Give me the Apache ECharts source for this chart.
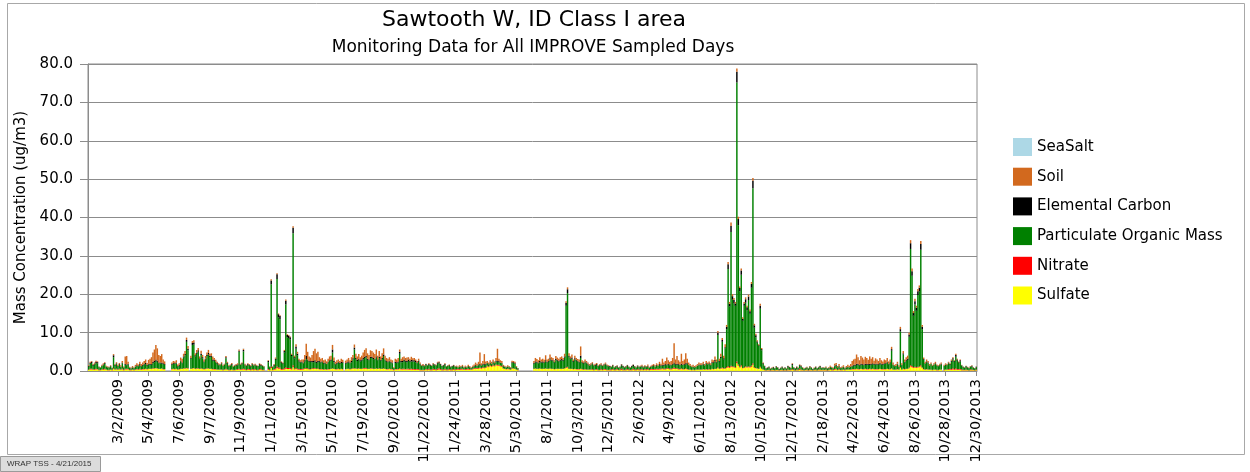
<!DOCTYPE html>
<html><head><meta charset="utf-8">
<script src="https://cdn.jsdelivr.net/npm/echarts/dist/echarts.min.js"></script>
<style>html,body{margin:0;padding:0;background:#fff}#c{width:1250px;height:472px}</style>
</head><body><div id="c"></div>
<script>
const _ = null;
const chartTitle = 'Sawtooth W, ID Class I area';
const chartSubtitle = 'Monitoring Data for All IMPROVE Sampled Days';
const yTitle = 'Mass Concentration (ug/m3)';
const footer = 'WRAP TSS - 4/21/2015';
const firstSampleUTC = [2009, 0, 1];
const sampleStepDays = 3;
const tickLabels = ['3/2/2009','5/4/2009','7/6/2009','9/7/2009','11/9/2009','1/11/2010','3/15/2010','5/17/2010','7/19/2010','9/20/2010','11/22/2010','1/24/2011','3/28/2011','5/30/2011','8/1/2011','10/3/2011','12/5/2011','2/6/2012','4/9/2012','6/11/2012','8/13/2012','10/15/2012','12/17/2012','2/18/2013','4/22/2013','6/24/2013','8/26/2013','10/28/2013','12/30/2013'];
const yTicks = [0,10,20,30,40,50,60,70,80];

const sulfate = [
0.3,0.4,0.4,0.3,0.3,0.4,0.4,0.2,0.2,0.3,0.3,0.4,0.3,0.2,0.2,0.3,0.2,0.5,0.3,0.4,0.3,
0.4,0.3,0.4,0.2,0.4,0.4,0.4,0.2,0.2,0.3,0.2,0.3,0.4,0.3,0.4,0.3,0.4,0.4,0.5,0.4,0.5,
0.5,0.5,0.6,0.6,0.7,0.6,0.5,0.5,0.6,0.4,0.4,_,_,_,_,0.4,0.5,0.4,0.5,0.3,0.4,
0.5,0.5,0.6,0.6,0.7,0.6,_,0.5,0.6,0.7,0.5,0.6,0.6,0.5,0.6,0.5,0.4,0.5,0.6,0.6,0.5,
0.5,0.4,0.4,0.4,0.3,0.3,0.3,0.3,0.2,0.3,0.4,0.3,0.2,0.2,0.3,0.2,0.2,0.3,0.3,0.4,0.3,
0.3,0.4,0.3,0.2,0.3,0.3,0.2,0.3,0.2,0.3,0.2,0.2,0.3,0.3,0.2,0.2,_,_,0.3,0.2,0.8,
0.2,0.3,0.4,0.8,0.6,0.6,0.3,0.3,0.4,0.6,0.5,0.5,0.5,0.4,1.0,0.4,0.5,0.4,0.3,0.3,0.3,
0.4,0.5,0.5,0.5,0.4,0.4,0.5,0.5,0.6,0.5,0.5,0.4,0.4,0.4,0.3,0.4,0.3,0.4,0.4,0.5,0.6,
0.5,0.4,0.4,0.5,0.4,0.5,0.4,_,0.4,0.5,0.5,0.4,0.5,0.6,0.6,0.6,0.5,0.6,0.5,0.5,0.6,
0.6,0.6,0.5,0.5,0.6,0.6,0.5,0.5,0.6,0.5,0.6,0.5,0.5,0.6,0.5,0.4,0.4,0.5,0.4,0.4,0.2,
0.4,0.4,0.4,0.5,0.4,0.4,0.4,0.4,0.4,0.4,0.3,0.4,0.3,0.3,0.3,0.3,0.3,0.2,0.2,0.2,0.2,
0.3,0.2,0.3,0.2,0.2,0.3,0.3,0.2,0.3,0.4,0.3,0.2,0.2,0.3,0.2,0.2,0.3,0.2,0.2,0.3,0.2,
0.3,0.3,0.3,0.3,0.4,0.3,0.3,0.3,0.4,0.3,0.3,0.4,0.5,0.6,0.5,0.6,0.7,0.6,0.8,0.7,0.8,
1.2,1.0,1.3,1.1,1.4,1.2,1.5,1.4,1.4,1.2,1.1,0.6,0.5,0.4,0.5,0.4,0.3,0.6,0.6,0.5,0.3,
0.2,_,_,_,_,_,_,_,_,_,_,0.5,0.6,0.5,0.5,0.6,0.5,0.5,0.5,0.6,0.5,
0.5,0.6,0.5,0.5,0.4,0.5,0.5,0.5,0.5,0.5,0.5,0.6,0.8,0.9,0.5,0.5,0.5,0.4,0.5,0.4,0.4,
0.4,0.5,0.4,0.3,0.4,0.3,0.3,0.3,0.3,0.3,0.2,0.3,0.3,0.2,0.2,0.3,0.2,0.3,0.3,0.2,0.2,
0.2,0.2,0.3,0.2,0.2,0.3,0.2,0.2,0.3,0.2,0.2,0.2,0.3,0.2,0.2,0.2,0.3,0.2,0.2,0.3,0.2,
0.2,0.3,0.2,0.3,0.2,0.3,0.2,0.3,0.3,0.3,0.3,0.4,0.3,0.4,0.4,0.5,0.4,0.4,0.5,0.5,0.4,
0.4,0.5,0.6,0.5,0.5,0.4,0.4,0.5,0.4,0.4,0.5,0.4,0.3,0.3,0.2,0.3,0.2,0.3,0.3,0.3,0.3,
0.3,0.4,0.3,0.4,0.3,0.4,0.3,0.5,0.4,0.5,0.5,0.8,0.5,0.6,0.7,0.6,0.6,0.8,1.0,0.8,1.1,
1.0,1.0,0.8,2.0,1.4,0.9,1.2,0.7,0.8,1.0,0.9,1.0,0.9,1.1,1.6,0.8,0.7,0.6,0.5,0.9,0.5,
0.3,0.2,0.1,0.2,0.2,0.1,0.2,0.2,0.1,0.2,0.2,0.1,0.2,0.2,0.1,0.2,0.1,0.2,0.2,0.2,0.3,
0.2,0.1,0.2,0.2,0.3,0.2,0.2,0.1,0.2,0.2,0.1,0.2,0.2,0.1,0.2,0.2,0.1,0.2,0.2,0.2,0.2,
0.2,0.2,0.1,0.2,0.3,0.2,0.2,0.3,0.4,0.2,0.3,0.2,0.2,0.3,0.2,0.3,0.3,0.3,0.3,0.4,0.4,
0.4,0.5,0.4,0.4,0.5,0.4,0.4,0.5,0.4,0.4,0.5,0.4,0.5,0.4,0.4,0.4,0.4,0.5,0.4,0.4,0.4,
0.4,0.5,0.4,0.4,0.6,0.3,0.3,0.3,0.4,0.3,0.8,0.3,0.5,0.4,0.5,0.5,0.7,1.2,1.0,0.8,0.9,
0.8,0.9,1.0,1.2,0.7,0.4,0.3,0.4,0.3,0.3,0.3,0.2,0.3,0.3,0.2,0.2,0.3,0.3,_,0.2,0.3,
0.3,0.3,0.3,0.3,0.4,0.3,0.4,0.3,0.3,0.3,0.2,0.2,0.2,0.2,0.2,0.1,0.2,0.2,0.2,0.1,0.2
];

const nitrate = [
0.1,0.2,0.2,0.1,0.2,0.2,0.1,0.1,0.1,0.1,0.2,0.2,0.1,0.1,0.1,0.1,0.1,0.2,0.1,0.2,0.1,
0.2,0.1,0.2,0.1,0.2,0.2,0.1,0.1,0.1,0.1,0.1,0.1,0.1,0.1,0.2,0.1,0.1,0.1,0.1,0.1,0.1,
0.1,0.1,0.1,0.1,0.1,0.1,0.1,0.1,0.1,0.1,0.1,_,_,_,_,0.1,0.1,0.1,0.1,0.1,0.1,
0.1,0.1,0.1,0.1,0.1,0.1,_,0.1,0.1,0.1,0.1,0.1,0.1,0.1,0.1,0.1,0.1,0.1,0.1,0.1,0.1,
0.1,0.1,0.1,0.1,0.1,0.1,0.1,0.1,0.1,0.1,0.2,0.1,0.1,0.1,0.1,0.1,0.1,0.1,0.2,0.2,0.1,
0.2,0.2,0.2,0.1,0.2,0.2,0.1,0.2,0.2,0.2,0.1,0.1,0.2,0.2,0.1,0.1,_,_,0.2,0.1,0.3,
0.1,0.2,0.3,0.4,0.3,0.3,0.2,0.2,0.3,0.4,0.3,0.3,0.3,0.2,0.5,0.2,0.3,0.2,0.2,0.2,0.2,
0.2,0.2,0.2,0.2,0.1,0.1,0.2,0.2,0.2,0.1,0.2,0.1,0.1,0.1,0.1,0.1,0.1,0.1,0.1,0.1,0.1,
0.1,0.1,0.1,0.1,0.1,0.1,0.1,_,0.1,0.1,0.1,0.1,0.1,0.1,0.1,0.1,0.1,0.1,0.1,0.1,0.1,
0.2,0.2,0.1,0.1,0.1,0.1,0.1,0.1,0.1,0.1,0.1,0.1,0.1,0.1,0.1,0.1,0.1,0.1,0.1,0.1,0.1,
0.1,0.1,0.1,0.2,0.1,0.2,0.2,0.1,0.2,0.2,0.2,0.2,0.2,0.2,0.2,0.2,0.2,0.1,0.1,0.1,0.1,
0.2,0.2,0.3,0.2,0.2,0.3,0.2,0.2,0.3,0.3,0.2,0.2,0.2,0.3,0.2,0.2,0.2,0.2,0.2,0.2,0.2,
0.2,0.2,0.2,0.2,0.2,0.1,0.2,0.2,0.2,0.2,0.1,0.2,0.2,0.2,0.2,0.2,0.2,0.2,0.2,0.2,0.2,
0.2,0.2,0.2,0.2,0.2,0.2,0.2,0.2,0.2,0.2,0.2,0.1,0.1,0.1,0.1,0.1,0.1,0.1,0.1,0.1,0.1,
0.1,_,_,_,_,_,_,_,_,_,_,0.1,0.1,0.1,0.1,0.1,0.1,0.1,0.1,0.1,0.1,
0.1,0.1,0.1,0.1,0.1,0.1,0.1,0.1,0.1,0.1,0.1,0.1,0.2,0.2,0.1,0.1,0.1,0.1,0.1,0.1,0.1,
0.1,0.1,0.1,0.1,0.1,0.1,0.1,0.1,0.1,0.2,0.1,0.1,0.2,0.1,0.1,0.2,0.1,0.2,0.2,0.1,0.1,
0.2,0.2,0.2,0.1,0.2,0.2,0.1,0.2,0.3,0.2,0.1,0.2,0.2,0.2,0.1,0.2,0.3,0.2,0.1,0.2,0.2,
0.2,0.2,0.1,0.2,0.2,0.2,0.1,0.2,0.2,0.2,0.2,0.2,0.2,0.2,0.2,0.2,0.2,0.2,0.2,0.2,0.2,
0.2,0.2,0.3,0.2,0.2,0.2,0.1,0.2,0.1,0.1,0.2,0.1,0.1,0.1,0.1,0.1,0.1,0.1,0.1,0.1,0.1,
0.1,0.1,0.1,0.1,0.1,0.1,0.1,0.1,0.1,0.1,0.1,0.2,0.1,0.1,0.2,0.1,0.1,0.2,0.3,0.2,0.3,
0.2,0.2,0.2,0.5,0.3,0.2,0.3,0.1,0.2,0.2,0.2,0.2,0.2,0.3,0.4,0.2,0.1,0.1,0.1,0.2,0.1,
0.1,0.1,0.1,0.1,0.1,0.1,0.1,0.1,0.1,0.1,0.1,0.1,0.1,0.1,0.1,0.1,0.1,0.2,0.1,0.1,0.2,
0.1,0.1,0.2,0.1,0.3,0.2,0.1,0.1,0.1,0.2,0.1,0.2,0.1,0.1,0.1,0.2,0.1,0.2,0.2,0.1,0.1,
0.1,0.2,0.1,0.1,0.2,0.1,0.1,0.2,0.2,0.1,0.2,0.1,0.1,0.1,0.1,0.1,0.1,0.1,0.1,0.1,0.1,
0.1,0.1,0.1,0.1,0.1,0.1,0.1,0.1,0.1,0.1,0.1,0.1,0.1,0.1,0.1,0.1,0.1,0.1,0.1,0.1,0.1,
0.1,0.1,0.1,0.1,0.1,0.1,0.1,0.1,0.1,0.1,0.2,0.1,0.1,0.1,0.1,0.1,0.2,0.3,0.3,0.2,0.2,
0.2,0.2,0.2,0.3,0.2,0.1,0.1,0.1,0.1,0.1,0.1,0.1,0.1,0.1,0.1,0.1,0.1,0.1,_,0.1,0.1,
0.1,0.2,0.2,0.2,0.3,0.2,0.3,0.2,0.2,0.2,0.2,0.1,0.1,0.2,0.1,0.1,0.2,0.2,0.1,0.1,0.2
];

const organicMass = [
0.8,1.3,1.5,1.0,1.2,1.5,1.5,0.7,0.5,0.9,1.0,1.3,0.7,0.6,0.6,0.8,0.4,2.9,1.0,1.2,0.8,
1.0,0.7,1.4,0.6,1.0,0.9,1.2,0.5,0.3,0.5,0.4,0.7,0.8,0.8,1.0,0.8,0.9,1.2,1.2,0.9,1.1,
1.0,1.0,1.4,1.6,1.9,1.7,1.4,1.4,1.2,1.3,1.1,_,_,_,_,1.1,1.3,1.3,1.4,0.8,0.9,
1.9,1.4,2.8,3.4,6.8,4.7,_,2.6,6.1,6.1,3.2,3.8,4.3,2.5,3.5,2.7,1.8,2.4,3.2,3.6,3.0,
3.1,2.2,2.2,1.8,1.5,1.1,1.1,1.4,1.0,1.2,2.7,1.5,0.9,1.1,1.2,0.8,1.0,1.0,1.0,4.4,1.2,
1.3,4.5,1.0,1.0,1.1,0.9,0.9,1.2,1.0,1.0,1.0,0.9,1.1,0.9,1.0,0.8,_,_,1.8,0.7,21.5,
0.7,0.9,2.2,22.8,13.1,12.6,1.6,1.3,4.1,16.3,8.0,7.8,7.4,3.3,34.4,2.7,5.0,3.5,2.0,1.7,1.8,
1.4,1.8,2.4,2.0,1.9,1.9,1.6,1.6,1.7,1.5,1.6,1.9,1.7,1.8,1.5,1.5,1.4,1.7,2.1,2.1,4.1,
1.7,1.2,1.4,1.6,1.4,1.5,1.6,_,1.4,1.5,1.6,1.5,1.7,2.3,4.9,2.4,2.0,2.2,1.9,2.1,2.3,
2.6,2.8,2.3,2.2,2.7,2.7,2.5,2.4,2.8,2.2,2.7,2.1,2.5,3.2,2.2,1.9,1.8,1.9,1.7,1.5,0.4,
1.6,1.6,1.7,3.8,1.8,1.7,2.0,1.9,1.7,2.0,1.9,1.9,2.0,2.0,1.8,1.5,1.9,1.4,1.0,1.0,0.9,
1.1,1.0,1.0,1.0,0.9,1.1,1.0,1.0,1.3,1.3,1.1,0.8,0.9,1.0,0.7,0.9,0.8,0.6,0.8,0.8,0.7,
0.6,0.4,0.6,0.5,0.6,0.4,0.5,0.4,0.6,0.5,0.3,0.4,0.5,0.6,0.6,0.7,0.7,0.6,0.7,0.7,0.7,
0.6,0.5,0.6,0.5,0.7,0.6,0.8,0.8,0.8,0.7,0.7,0.5,0.5,0.4,0.5,0.5,0.3,1.4,1.4,1.2,0.6,
0.3,_,_,_,_,_,_,_,_,_,_,1.3,1.5,1.6,1.4,1.6,1.6,1.6,1.5,1.8,1.6,
1.8,2.3,2.1,2.0,1.7,2.2,2.1,1.9,2.1,2.2,2.1,2.8,16.0,19.2,3.1,2.5,2.6,1.9,2.4,2.2,2.0,
1.7,2.8,1.6,1.5,1.8,1.6,1.3,1.0,1.1,1.3,1.1,1.0,1.1,0.9,1.2,1.0,1.0,1.0,1.2,1.1,0.9,
0.7,0.6,0.8,0.6,0.6,0.7,0.5,0.6,0.8,0.7,0.6,0.6,0.8,0.6,0.5,0.7,0.7,0.6,0.6,0.7,0.6,
0.7,0.7,0.6,0.7,0.6,0.7,0.5,0.6,0.7,0.8,0.6,0.8,0.8,1.0,0.8,0.7,0.8,1.0,0.8,0.9,0.9,
0.9,0.9,1.0,0.9,0.9,1.0,1.0,0.9,1.1,1.1,1.0,1.3,1.1,0.9,0.7,0.7,0.6,0.7,0.9,1.1,1.1,
1.1,1.2,1.0,1.3,1.3,1.3,1.1,1.5,1.6,2.0,1.6,8.4,1.8,2.7,6.7,2.3,5.2,9.9,25.3,15.8,34.8,
17.4,16.4,16.0,72.7,36.3,19.7,23.6,12.3,16.0,16.6,14.7,17.3,13.8,20.3,45.6,10.3,8.0,6.7,5.9,15.1,4.8,
1.4,0.9,0.4,0.5,0.6,0.3,0.4,0.5,0.4,0.7,0.5,0.2,0.4,0.6,0.4,0.5,0.3,0.7,0.5,0.4,1.0,
0.5,0.4,0.5,0.4,0.8,0.8,0.5,0.3,0.4,0.5,0.4,0.6,0.5,0.2,0.4,0.5,0.4,0.5,0.7,0.4,0.5,
0.4,0.5,0.4,0.4,0.5,0.5,0.3,0.7,0.8,0.6,0.7,0.4,0.5,0.6,0.3,0.5,0.6,0.5,0.7,0.7,0.9,
0.9,1.0,1.1,0.9,1.0,1.1,1.0,1.0,1.1,1.1,1.0,1.1,1.2,1.1,1.2,1.2,1.1,1.3,1.2,1.1,1.3,
1.3,1.6,1.2,1.6,4.6,1.2,0.8,0.9,1.2,0.7,9.3,1.1,3.7,1.7,2.1,2.3,8.0,30.3,23.5,13.4,16.2,
14.7,18.7,19.5,30.1,10.0,2.4,1.5,1.8,1.6,1.0,1.4,1.0,1.2,1.4,1.1,0.9,1.1,1.3,_,1.0,1.2,
1.1,1.5,1.1,1.9,2.3,1.9,3.0,2.2,1.6,2.0,1.0,0.7,0.5,0.8,0.6,0.5,0.7,0.8,0.5,0.4,0.6
];

const elementalCarbon = [
0.1,0.2,0.3,0.2,0.2,0.3,0.3,0.1,0.1,0.1,0.2,0.2,0.1,0.1,0.1,0.1,0.1,0.5,0.2,0.2,0.1,
0.2,0.1,0.2,0.1,0.2,0.2,0.2,0.1,0.1,0.1,0.1,0.1,0.2,0.1,0.2,0.1,0.2,0.2,0.3,0.2,0.2,
0.2,0.2,0.3,0.3,0.3,0.3,0.2,0.2,0.3,0.2,0.2,_,_,_,_,0.2,0.2,0.2,0.2,0.1,0.2,
0.2,0.2,0.3,0.3,0.5,0.4,_,0.2,0.5,0.5,0.3,0.3,0.4,0.2,0.3,0.3,0.2,0.2,0.3,0.4,0.3,
0.3,0.3,0.2,0.2,0.2,0.2,0.1,0.2,0.1,0.1,0.3,0.2,0.1,0.1,0.2,0.1,0.1,0.2,0.2,0.3,0.1,
0.2,0.4,0.2,0.1,0.2,0.2,0.1,0.2,0.1,0.2,0.1,0.1,0.2,0.2,0.1,0.1,_,_,0.3,0.1,1.0,
0.1,0.2,0.3,1.2,0.8,0.8,0.2,0.2,0.4,1.0,0.6,0.6,0.6,0.3,1.4,0.3,0.6,0.4,0.3,0.2,0.2,
0.2,0.3,0.8,0.3,0.2,0.2,0.3,0.3,0.3,0.3,0.3,0.2,0.2,0.2,0.2,0.2,0.1,0.2,0.2,0.3,0.8,
0.3,0.2,0.2,0.2,0.2,0.3,0.2,_,0.2,0.2,0.3,0.2,0.3,0.3,0.5,0.3,0.3,0.3,0.3,0.3,0.4,
0.3,0.3,0.3,0.2,0.3,0.3,0.3,0.2,0.3,0.2,0.3,0.2,0.3,0.4,0.2,0.2,0.2,0.2,0.2,0.2,0.1,
0.3,0.2,0.3,0.5,0.3,0.3,0.4,0.3,0.3,0.4,0.3,0.4,0.3,0.3,0.3,0.2,0.3,0.2,0.1,0.2,0.1,
0.2,0.1,0.2,0.2,0.1,0.2,0.2,0.1,0.3,0.3,0.2,0.1,0.2,0.2,0.1,0.1,0.2,0.1,0.1,0.2,0.1,
0.1,0.1,0.1,0.1,0.1,0.1,0.1,0.1,0.1,0.1,0.1,0.1,0.1,0.2,0.1,0.2,0.2,0.1,0.2,0.2,0.2,
0.1,0.1,0.1,0.1,0.2,0.1,0.2,0.2,0.2,0.1,0.1,0.1,0.1,0.1,0.1,0.1,0.1,0.2,0.2,0.2,0.1,
0.1,_,_,_,_,_,_,_,_,_,_,0.2,0.3,0.2,0.2,0.3,0.2,0.3,0.2,0.3,0.2,
0.2,0.3,0.2,0.2,0.2,0.3,0.2,0.2,0.2,0.3,0.2,0.3,0.8,1.0,0.3,0.2,0.3,0.2,0.3,0.2,0.2,
0.2,0.6,0.2,0.2,0.2,0.2,0.2,0.1,0.2,0.2,0.1,0.2,0.2,0.1,0.1,0.2,0.1,0.2,0.2,0.1,0.1,
0.2,0.1,0.2,0.1,0.2,0.2,0.1,0.1,0.3,0.2,0.1,0.2,0.2,0.1,0.1,0.2,0.3,0.2,0.1,0.2,0.1,
0.1,0.2,0.1,0.1,0.1,0.2,0.1,0.1,0.1,0.2,0.1,0.2,0.1,0.2,0.1,0.2,0.2,0.2,0.2,0.2,0.2,
0.1,0.2,0.3,0.2,0.3,0.2,0.1,0.3,0.1,0.2,0.3,0.2,0.1,0.1,0.1,0.1,0.1,0.1,0.1,0.2,0.1,
0.1,0.2,0.1,0.2,0.1,0.2,0.1,0.2,0.2,0.3,0.2,0.6,0.2,0.3,0.5,0.3,0.3,0.6,1.2,0.7,1.6,
0.9,0.9,0.6,2.8,1.6,0.8,1.1,0.5,0.6,0.9,0.8,0.9,0.7,1.0,2.0,0.6,0.5,0.3,0.2,0.8,0.3,
0.2,0.1,0.1,0.1,0.2,0.1,0.1,0.2,0.1,0.2,0.1,0.1,0.1,0.2,0.1,0.1,0.1,0.2,0.2,0.1,0.3,
0.1,0.1,0.2,0.1,0.2,0.2,0.1,0.1,0.1,0.1,0.1,0.2,0.1,0.1,0.1,0.2,0.1,0.1,0.2,0.1,0.1,
0.1,0.1,0.1,0.1,0.1,0.1,0.1,0.2,0.2,0.1,0.2,0.1,0.1,0.1,0.1,0.1,0.1,0.1,0.1,0.2,0.2,
0.2,0.3,0.2,0.2,0.3,0.2,0.2,0.3,0.2,0.2,0.3,0.2,0.2,0.2,0.2,0.2,0.2,0.2,0.2,0.2,0.2,
0.2,0.2,0.2,0.2,0.4,0.1,0.1,0.1,0.2,0.1,0.6,0.1,0.3,0.2,0.2,0.3,0.6,1.5,1.2,0.7,0.9,
0.8,1.0,1.0,1.5,0.6,0.2,0.1,0.2,0.2,0.1,0.1,0.1,0.1,0.2,0.1,0.1,0.1,0.2,_,0.1,0.1,
0.1,0.2,0.2,0.3,0.3,0.2,0.5,0.3,0.2,0.3,0.1,0.1,0.1,0.1,0.1,0.1,0.1,0.2,0.1,0.1,0.1
];

const soil = [
0.2,0.3,0.2,0.2,0.3,0.3,0.2,0.1,0.1,0.2,0.3,0.2,0.2,0.2,0.1,0.2,0.1,0.3,0.2,0.3,0.3,
0.3,0.3,0.4,0.2,2.0,2.2,0.5,0.2,0.2,0.3,0.2,0.4,0.5,0.4,0.6,0.5,0.6,0.7,0.9,0.5,1.0,
1.4,1.8,2.4,3.0,3.8,3.2,2.0,1.7,2.2,1.0,0.7,_,_,_,_,0.4,0.5,0.5,0.6,0.4,0.4,
0.8,1.0,0.7,0.8,0.6,0.7,_,0.6,0.5,0.6,0.5,0.7,0.6,0.5,0.8,0.6,0.5,0.7,0.6,0.8,0.6,
0.6,0.8,0.5,0.4,0.3,0.3,0.2,0.3,0.2,0.2,0.3,0.3,0.2,0.2,0.3,0.2,0.2,0.2,0.3,0.3,0.2,
0.2,0.3,0.2,0.2,0.2,0.2,0.2,0.2,0.2,0.2,0.2,0.1,0.2,0.2,0.1,0.1,_,_,0.2,0.1,0.3,
0.1,0.2,0.3,0.3,0.2,0.2,0.2,0.2,0.3,0.3,0.2,0.2,0.2,0.3,0.4,0.4,0.6,0.5,0.4,0.4,0.5,
0.8,1.4,3.2,2.0,1.2,0.9,1.6,2.6,3.0,2.2,2.4,1.0,0.8,0.9,0.7,0.8,0.6,0.8,1.0,1.0,1.2,
0.9,0.5,0.7,0.6,0.5,0.8,0.6,_,0.6,0.7,0.9,0.6,1.0,0.9,0.8,1.1,0.9,1.2,0.8,1.0,1.4,
1.8,2.0,1.4,1.2,1.7,1.5,1.4,1.2,1.8,1.0,1.5,0.9,1.2,1.6,1.0,0.8,0.7,0.9,0.6,0.6,0.2,
0.8,0.7,0.9,0.6,0.6,1.0,0.8,0.7,0.9,0.6,0.5,0.8,0.5,0.6,0.4,0.4,0.5,0.3,0.2,0.3,0.2,
0.1,0.1,0.2,0.1,0.1,0.2,0.1,0.1,0.2,0.2,0.1,0.1,0.1,0.2,0.1,0.1,0.2,0.1,0.1,0.1,0.1,
0.2,0.2,0.3,0.2,0.3,0.2,0.3,0.2,0.3,0.2,0.2,0.3,0.4,0.6,0.5,0.7,3.0,0.5,0.7,2.6,0.6,
0.5,0.4,0.6,0.5,0.5,0.4,0.7,3.2,0.6,0.6,0.5,0.3,0.2,0.2,0.3,0.2,0.2,0.4,0.3,0.4,0.2,
0.1,_,_,_,_,_,_,_,_,_,_,0.5,0.9,0.7,0.6,1.0,0.6,0.7,0.6,1.3,0.6,
0.6,1.0,0.7,0.6,0.4,0.8,0.6,0.5,0.7,0.7,0.5,0.7,0.4,0.5,0.6,0.5,0.8,0.4,0.7,0.5,0.4,
0.6,2.4,0.5,0.4,0.5,0.4,0.3,0.3,0.3,0.3,0.2,0.3,0.3,0.2,0.2,0.3,0.2,0.2,0.3,0.2,0.2,
0.1,0.1,0.1,0.1,0.1,0.1,0.1,0.1,0.1,0.1,0.1,0.1,0.1,0.1,0.1,0.1,0.1,0.1,0.1,0.1,0.1,
0.2,0.2,0.2,0.2,0.2,0.3,0.2,0.2,0.3,0.3,0.3,0.4,0.3,0.6,0.4,1.6,0.6,0.8,1.8,1.0,0.7,
1.0,1.6,5.0,1.2,2.0,1.0,0.8,2.6,0.9,1.2,2.6,1.2,0.6,0.4,0.3,0.4,0.3,0.3,0.4,0.5,0.4,
0.4,0.5,0.3,0.6,0.4,0.5,0.4,0.7,0.5,0.9,0.6,0.4,0.6,0.8,0.5,0.7,0.8,0.5,0.6,0.5,0.9,
0.5,0.5,0.4,0.8,0.6,0.4,0.5,0.4,0.4,0.5,0.4,0.5,0.4,0.5,0.7,0.4,0.4,0.3,0.3,0.5,0.3,
0.2,0.1,0.1,0.1,0.1,0.1,0.1,0.1,0.1,0.1,0.1,0.1,0.1,0.1,0.1,0.1,0.1,0.1,0.1,0.1,0.2,
0.1,0.1,0.1,0.1,0.1,0.1,0.1,0.1,0.1,0.1,0.1,0.1,0.1,0.1,0.1,0.1,0.1,0.1,0.1,0.1,0.1,
0.1,0.2,0.1,0.2,0.3,0.2,0.2,0.5,0.5,0.3,0.4,0.2,0.3,0.4,0.2,0.3,0.5,0.4,0.6,1.2,1.4,
1.6,2.4,1.8,1.2,2.0,1.7,1.3,1.8,1.6,1.1,1.9,1.4,1.6,0.9,1.4,1.1,0.8,1.3,0.9,0.7,1.0,
0.8,1.0,0.6,0.7,0.6,0.5,0.3,0.4,0.5,0.3,0.6,0.4,0.6,0.6,0.7,0.8,0.5,0.8,0.7,0.5,0.6,
0.5,0.6,0.6,0.8,0.5,0.4,0.4,0.5,0.4,0.3,0.3,0.2,0.3,0.4,0.2,0.2,0.3,0.3,_,0.2,0.3,
0.2,0.2,0.2,0.3,0.3,0.2,0.3,0.2,0.2,0.2,0.1,0.1,0.1,0.1,0.1,0.1,0.1,0.1,0.1,0.1,0.1
];

const seaSalt = [
0,0,0,0,0,0,0,0,0,0,0,0,0,0,0,0,0,0,0,0,0,
0,0,0,0,0,0,0,0,0,0,0,0,0,0,0,0,0,0,0,0,0,
0,0,0,0,0,0,0,0,0,0,0,_,_,_,_,0,0,0,0,0,0,
0,0,0,0,0,0,_,0,0,0,0,0,0,0,0,0,0,0,0,0,0,
0,0,0,0,0,0,0,0,0,0,0,0,0,0,0,0,0,0,0,0.1,0,
0,0.1,0,0,0,0,0,0,0,0,0,0,0,0,0,0,_,_,0,0,0,
0,0,0,0,0,0,0,0,0,0,0,0,0,0,0,0,0,0,0,0,0,
0,0,0,0,0,0,0,0,0,0,0,0,0,0,0,0,0,0,0,0,0,
0,0,0,0,0,0,0,_,0,0,0,0,0,0,0,0,0,0,0,0,0,
0,0,0,0,0,0,0,0,0,0,0,0,0,0,0,0,0,0,0,0,0,
0,0,0,0,0,0,0,0,0,0,0,0,0,0,0,0,0,0,0,0,0,
0,0,0,0,0,0,0,0,0,0,0,0,0,0,0,0,0,0,0,0,0,
0,0,0,0,0,0,0,0,0,0,0,0,0,0,0,0,0,0,0,0,0,
0,0,0,0,0,0,0,0,0,0,0,0,0,0,0,0,0,0,0,0,0,
0,_,_,_,_,_,_,_,_,_,_,0,0,0,0,0,0,0,0,0,0,
0,0,0,0,0,0,0,0,0,0,0,0,0,0,0,0,0,0,0,0,0,
0,0,0,0,0,0,0,0,0,0,0,0,0,0,0,0,0,0,0,0,0,
0,0,0,0,0,0,0,0,0,0,0,0,0,0,0,0,0,0,0,0,0,
0,0,0,0,0,0,0,0,0,0,0,0,0,0,0,0,0,0,0,0,0,
0,0,0,0,0,0,0,0,0,0,0,0,0,0,0,0,0,0,0,0,0,
0,0,0,0,0,0,0,0,0,0,0,0,0,0,0,0,0,0,0,0,0,
0,0,0,0,0,0,0,0,0,0,0,0,0,0,0,0,0,0,0,0,0,
0,0,0,0,0,0,0,0,0,0,0,0,0,0,0,0,0,0,0,0,0,
0,0,0,0,0,0,0,0,0,0,0,0,0,0,0,0,0,0,0,0,0,
0,0,0,0,0,0,0,0,0,0,0,0,0,0,0,0,0,0,0,0,0,
0,0,0,0,0,0,0,0,0,0,0,0,0,0,0,0,0,0,0,0,0,
0,0,0,0,0,0,0,0,0,0,0,0,0,0,0,0,0,0,0,0,0,
0,0,0,0,0,0,0,0,0,0,0,0,0,0,0,0,0,0,_,0,0,
0,0,0,0,0,0,0,0,0,0,0,0,0,0,0,0,0,0,0,0,0
];

// sample-day categories: every 3rd day from the first sample date
const categories = [];
{
  const t0 = Date.UTC(firstSampleUTC[0], firstSampleUTC[1], firstSampleUTC[2]);
  for (let i = 0; i < organicMass.length; i++) {
    const d = new Date(t0 + i * sampleStepDays * 86400000);
    categories.push((d.getUTCMonth() + 1) + '/' + d.getUTCDate() + '/' + d.getUTCFullYear());
  }
}
const tickSet = new Set(tickLabels);
const showAt = (idx, val) => tickSet.has(val);

const FONT = 'DejaVu Sans';
const GRID = '#8c8c8c';
const mk = (name, data, color) => ({
  name, type: 'bar', stack: 'mass', data,
  itemStyle: { color }, barCategoryGap: '0%',
  emphasis: { disabled: true }, animation: false
});

const chart = echarts.init(document.getElementById('c'), null, { renderer: 'canvas' });
chart.setOption({
  backgroundColor: '#ffffff',
  animation: false,
  grid: { left: 88, top: 64, right: 273, bottom: 101, show: true, borderColor: GRID, borderWidth: 1, containLabel: false },
  legend: {
    orient: 'vertical', left: 1008, top: 133, itemWidth: 19, itemHeight: 18, itemGap: 11.7,
    icon: 'rect', selectedMode: false,
    textStyle: { fontFamily: FONT, fontSize: 15, color: '#000' },
    data: ['SeaSalt', 'Soil', 'Elemental Carbon', 'Particulate Organic Mass', 'Nitrate', 'Sulfate']
  },
  xAxis: {
    type: 'category', data: categories,
    axisLine: { show: true, lineStyle: { color: GRID } },
    axisTick: { show: true, alignWithLabel: true, interval: showAt, length: 5, lineStyle: { color: GRID } },
    axisLabel: { interval: showAt, rotate: 90, fontFamily: FONT, fontSize: 14.5, color: '#000', margin: 8 },
    splitLine: { show: false }
  },
  yAxis: {
    type: 'value', min: yTicks[0], max: yTicks[yTicks.length - 1], interval: yTicks[1] - yTicks[0],
    name: yTitle, nameLocation: 'middle', nameGap: 54, nameRotate: 90,
    nameTextStyle: { fontFamily: FONT, fontSize: 15, color: '#000' },
    axisLine: { show: true, lineStyle: { color: GRID } },
    axisTick: { show: true, length: 8, lineStyle: { color: GRID } },
    axisLabel: { formatter: v => v.toFixed(1), fontFamily: FONT, fontSize: 15, color: '#000', margin: 15 },
    splitLine: { show: true, lineStyle: { color: GRID, width: 1 } }
  },
  series: [
    mk('Sulfate', sulfate, '#ffff00'),
    mk('Nitrate', nitrate, '#ff0000'),
    mk('Particulate Organic Mass', organicMass, '#008000'),
    mk('Elemental Carbon', elementalCarbon, '#000000'),
    mk('Soil', soil, '#d2691e'),
    mk('SeaSalt', seaSalt, '#add8e6')
  ],
  graphic: [
    { type: 'rect', silent: true, z: -10, shape: { x: 7.5, y: 3.5, width: 1237, height: 451 }, style: { fill: 'none', stroke: '#a8a8a8', lineWidth: 1 } },
    { type: 'text', x: 534, y: 20, style: { text: chartTitle, font: '22px "DejaVu Sans"', fill: '#000', align: 'center', verticalAlign: 'middle', textAlign: 'center', textVerticalAlign: 'middle' } },
    { type: 'text', x: 533, y: 48, style: { text: chartSubtitle, font: '17px "DejaVu Sans"', fill: '#000', align: 'center', verticalAlign: 'middle', textAlign: 'center', textVerticalAlign: 'middle' } },
    { type: 'rect', silent: true, shape: { x: 0.5, y: 456.5, width: 100, height: 15 }, style: { fill: '#dcdcdc', stroke: '#9a9a9a', lineWidth: 1 } },
    { type: 'text', x: 7, y: 464, style: { text: footer, font: '8px "Liberation Sans"', fill: '#333', align: 'left', verticalAlign: 'middle', textAlign: 'left', textVerticalAlign: 'middle' } }
  ]
});
</script>
</body></html>
